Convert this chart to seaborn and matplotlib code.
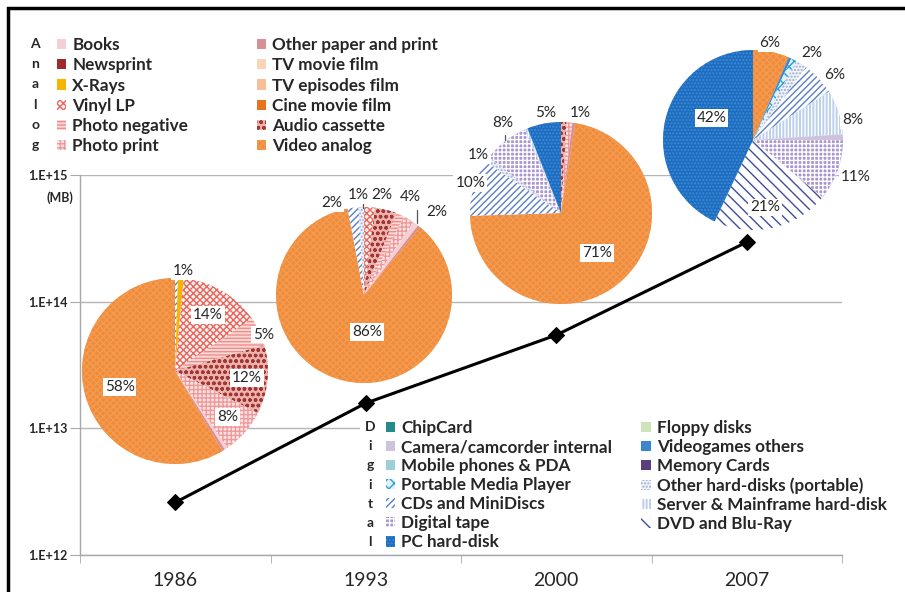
import numpy as np
import matplotlib
matplotlib.use("Agg")
import matplotlib.pyplot as plt
from matplotlib.patches import Patch, Rectangle
import seaborn as sns

# === Settings ===
sns.set_style("white")
plt.rcParams['font.family'] = ['Lato', 'DejaVu Sans']
plt.rcParams['hatch.linewidth'] = 1.0
W, H = 905, 592
TXT = '#262626'

# === Data ===
years = ["1986", "1993", "2000", "2007"]
total_mb = [2.6e12, 1.58e13, 5.45e13, 2.95e14]

analog_types = ["Books", "Newsprint", "X-Rays", "Vinyl LP", "Photo negative", "Photo print",
                "Other paper and print", "TV movie film", "TV episodes film", "Cine movie film",
                "Audio cassette", "Video analog"]
digital_types = ["ChipCard", "Camera/camcorder internal", "Mobile phones & PDA", "Portable Media Player",
                 "CDs and MiniDiscs", "Digital tape", "PC hard-disk",
                 "Floppy disks", "Videogames others", "Memory Cards", "Other hard-disks (portable)",
                 "Server & Mainframe hard-disk", "DVD and Blu-Ray"]

# slices clockwise from 12 o'clock, shares in %
pie_1986_types = ["CDs and MiniDiscs", "X-Rays", "Vinyl LP", "Photo negative", "Audio cassette",
                  "Photo print", "Books", "Other paper and print", "Video analog"]
pie_1986_share = [0.5, 1, 14, 5, 12, 8, 0.5, 0.5, 58.5]
pie_1993_types = ["Vinyl LP", "Audio cassette", "Photo negative", "Photo print", "Books",
                  "Other paper and print", "Video analog", "CDs and MiniDiscs", "Other hard-disks (portable)"]
pie_1993_share = [2, 4, 1.5, 2, 1, 0.5, 86, 2, 1]
pie_2000_types = ["Audio cassette", "Photo print", "Other paper and print", "Video analog",
                  "CDs and MiniDiscs", "Other hard-disks (portable)", "Digital tape",
                  "Server & Mainframe hard-disk", "PC hard-disk"]
pie_2000_share = [1, 1, 0.5, 72, 10, 1, 8, 0.5, 6]
pie_2007_types = ["Video analog", "Videogames others", "Portable Media Player",
                  "Other hard-disks (portable)", "CDs and MiniDiscs", "Server & Mainframe hard-disk",
                  "Camera/camcorder internal", "Digital tape", "DVD and Blu-Ray", "PC hard-disk"]
pie_2007_share = [6.5, 0.5, 1, 2, 6, 8, 1, 11, 21, 43]

# percentage labels: text, angle (deg clockwise from top), distance (fraction of radius)
lab_1986 = ["1%", "14%", "5%", "12%", "8%", "58%"]
lab_1986_pos = [(4.6, 1.08), (30.5, 0.70), (67.7, 1.03), (95.5, 0.78), (131, 0.75), (253.8, 0.62)]
lab_1993 = ["2%", "1%", "2%", "4%", "2%", "86%"]
lab_1993_pos = [(340.8, 1.11), (356.6, 1.14), (10.2, 1.15), (25.1, 1.23), (41.3, 1.26), (175, 0.42)]
lab_2000 = ["5%", "1%", "8%", "1%", "10%", "71%"]
lab_2000_pos = [(-9, 1.11), (10.8, 1.12), (-32.8, 1.18), (-55, 1.11), (-71.8, 1.05), (138, 0.59)]
lab_2007 = ["6%", "2%", "6%", "8%", "11%", "21%", "42%"]
lab_2007_pos = [(10, 1.09), (34, 1.17), (51.6, 1.16), (78.7, 1.13), (110, 1.21), (170, 0.76), (-62, 0.52)]

# short leader lines (x0, y0, x1, y1 in pie radius units)
lead_1986 = []
lead_1993 = [(-0.01, 1.05, -0.01, 0.99), (0.60, 0.97, 0.60, 0.82)]
lead_2000 = [(-0.615, 0.86, -0.615, 0.80)]
lead_2007 = []

# === Styles: face colour, hatch, hatch colour ===
STYLE = {
    "Books": ('#f6cfd6', None, '#f6cfd6'),
    "Newsprint": ('#9e2a2b', None, '#9e2a2b'),
    "X-Rays": ('#f7b500', None, '#f7b500'),
    "Vinyl LP": ('#fff2f0', 'xxxxx', '#e8655c'),
    "Photo negative": ('#fbd9d6', '-----', '#ef8d8d'),
    "Photo print": ('#fde4e4', '++++', '#ee9a9a'),
    "Other paper and print": ('#d98f96', None, '#d98f96'),
    "TV movie film": ('#f8d4b8', None, '#f8d4b8'),
    "TV episodes film": ('#f6bf96', None, '#f6bf96'),
    "Cine movie film": ('#e8731e', None, '#e8731e'),
    "Audio cassette": ('#ebb3ac', 'ooo', '#a13636'),
    "Video analog": ('#f08b3a', 'xxxxx', '#f39b51'),
    "ChipCard": ('#238b8b', None, '#238b8b'),
    "Camera/camcorder internal": ('#cfc3dc', None, '#cfc3dc'),
    "Mobile phones & PDA": ('#9fcfd6', None, '#9fcfd6'),
    "Portable Media Player": ('#dff1fa', 'xxx', '#27a0d8'),
    "CDs and MiniDiscs": ('#ffffff', '/////', '#5b7fc4'),
    "Digital tape": ('#a996d1', '++++', '#ffffff'),
    "PC hard-disk": ('#1c6dbf', '.....', '#3f8ad6'),
    "Floppy disks": ('#cde3b8', None, '#cde3b8'),
    "Videogames others": ('#3b86cc', None, '#3b86cc'),
    "Memory Cards": ('#5b3f7e', None, '#5b3f7e'),
    "Other hard-disks (portable)": ('#f1f3fa', '.....', '#9aa8d0'),
    "Server & Mainframe hard-disk": ('#bcd0ee', '|||||', '#ffffff'),
    "DVD and Blu-Ray": ('#ffffff', '\\\\\\', '#3e4d9e'),
}


def px_rect(x0, y0, x1, y1):
    return [x0 / W, 1 - y1 / H, (x1 - x0) / W, (y1 - y0) / H]


fig = plt.figure(figsize=(W / 100, H / 100), dpi=100)
fig.patch.set_facecolor('white')

# === Main axis with total storage line ===
ax = fig.add_axes(px_rect(80, 175, 842, 555))
ax.set_yscale('log')
ax.set_ylim(1e12, 1e15)
ax.set_xlim(-0.5, len(years) - 0.5)
ax.set_axisbelow(True)
ax.grid(True, axis='y', color='#b5b5b5', linewidth=1)
ax.grid(False, axis='x')
sns.lineplot(x=np.arange(len(years)), y=total_mb, color='black', linewidth=2.2,
             marker='D', markersize=8, markeredgecolor='black', ax=ax, zorder=3)
for s in ['top', 'right']:
    ax.spines[s].set_visible(False)
for s in ['left', 'bottom']:
    ax.spines[s].set_color('#a8a8a8')
    ax.spines[s].set_linewidth(1)
ax.set_yticks([1e12, 1e13, 1e14, 1e15])
ax.set_yticklabels(["1.E+12", "1.E+13", "1.E+14", "1.E+15"], fontsize=9, fontweight='bold', color=TXT)
ax.yaxis.set_minor_locator(matplotlib.ticker.NullLocator())
ax.tick_params(axis='y', which='major', length=7, color='#a8a8a8', pad=2, left=True)
ax.set_xticks(np.arange(len(years)))
ax.set_xticklabels(years, fontsize=14, color=TXT)
ax.set_xticks(np.arange(len(years) + 1) - 0.5, minor=True)
ax.tick_params(axis='x', which='major', length=0, pad=12)
ax.tick_params(axis='x', which='minor', length=6, color='#a8a8a8', bottom=True)
fig.text(60 / W, 1 - 198 / H, "(MB)", fontsize=9, fontweight='bold', color=TXT, ha='center', va='center')

# white box behind the digital legend
ax.add_patch(Rectangle((360 / W, 1 - 553 / H), 482 / W, 135 / H, transform=fig.transFigure,
                       facecolor='white', edgecolor='none', zorder=1.5))

# === Pies ===
pies = [
    (pie_1986_types, pie_1986_share, lab_1986, lab_1986_pos, lead_1986, (175, 371, 93)),
    (pie_1993_types, pie_1993_share, lab_1993, lab_1993_pos, lead_1993, (364, 295, 88)),
    (pie_2000_types, pie_2000_share, lab_2000, lab_2000_pos, lead_2000, (561, 213, 91)),
    (pie_2007_types, pie_2007_share, lab_2007, lab_2007_pos, lead_2007, (753, 140, 90)),
]
for types, shares, labels, lpos, leads, (cx, cy, r) in pies:
    pax = fig.add_axes(px_rect(cx - r, cy - r, cx + r, cy + r))
    wedges, _ = pax.pie(shares, colors=[STYLE[t][0] for t in types], startangle=90,
                        counterclock=False, radius=1, wedgeprops=dict(linewidth=0))
    for w, t in zip(wedges, types):
        face, hatch, hcol = STYLE[t]
        w.set_edgecolor(hcol)
        if hatch:
            w.set_hatch(hatch)
    pax.set_xlim(-1, 1)
    pax.set_ylim(-1, 1)
    pax.set_aspect('equal')
    pax.axis('off')
    for x0, y0, x1, y1 in leads:
        pax.plot([x0, x1], [y0, y1], color='#555555', lw=0.9, clip_on=False, zorder=4)
    for txt, (ang, d) in zip(labels, lpos):
        a = np.deg2rad(ang)
        pax.text(d * np.sin(a), d * np.cos(a), txt, ha='center', va='center', fontsize=11,
                 color=TXT, zorder=5,
                 bbox=dict(boxstyle='square,pad=0.12', facecolor='white', edgecolor='none'))


# === Legends ===
def handles(names):
    hs = []
    for n in names:
        face, hatch, hcol = STYLE[n]
        hs.append(Patch(facecolor=face, edgecolor=hcol, hatch=hatch, linewidth=0, label=n))
    return hs


leg_a = fig.legend(handles=handles(analog_types), loc='upper left', ncol=2,
                   bbox_to_anchor=(57 / W, 1 - 37 / H), frameon=False,
                   prop={'size': 12.3, 'weight': 'bold'},
                   handlelength=0.55, handleheight=0.55, handletextpad=0.35,
                   labelspacing=0.25, columnspacing=4.0, borderpad=0, borderaxespad=0)
for t in leg_a.get_texts():
    t.set_color(TXT)
for i, ch in enumerate("Analog"):
    fig.text(35 / W, 1 - (44 + 20.2 * i) / H, ch, fontsize=10, fontweight='bold', color=TXT,
             ha='center', va='center')

leg_d = fig.legend(handles=handles(digital_types), loc='upper left', ncol=2,
                   bbox_to_anchor=(386 / W, 1 - 420 / H), frameon=False,
                   prop={'size': 12.3, 'weight': 'bold'},
                   handlelength=0.55, handleheight=0.55, handletextpad=0.35,
                   labelspacing=0.18, columnspacing=1.7, borderpad=0, borderaxespad=0)
for t in leg_d.get_texts():
    t.set_color(TXT)
for i, ch in enumerate("Digital"):
    fig.text(370 / W, 1 - (427 + 19.2 * i) / H, ch, fontsize=10, fontweight='bold', color=TXT,
             ha='center', va='center')

# figure frame
fig.add_artist(Rectangle((8 / W, -0.05), 1.1, 1 - 8 / H + 0.05, transform=fig.transFigure,
                         fill=False, edgecolor='black', linewidth=2.5, clip_on=False))

fig.savefig("out.png", dpi=100)
print("Plot saved.")
